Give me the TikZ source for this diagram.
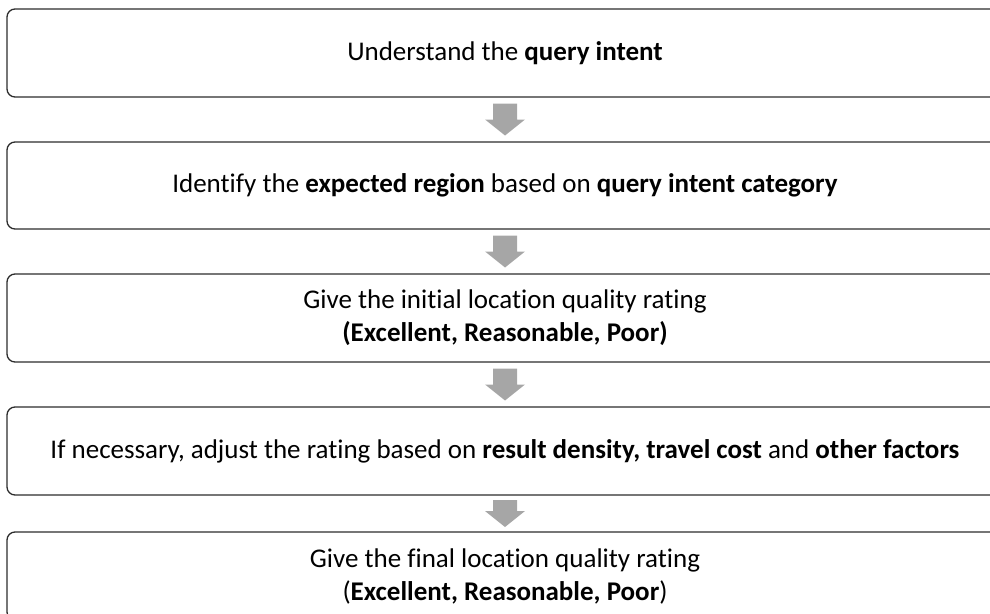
\documentclass[tikz,border=0pt]{standalone}
\usepackage{fontspec}
\setmainfont[Ligatures=NoCommon]{Carlito}
\usepackage{tikz}
\usetikzlibrary{calc}
\definecolor{arrowgray}{RGB}{166,166,166}
\definecolor{edgegray}{RGB}{45,45,45}

% grey block arrow between two boxes, #3 = half height
\newcommand{\blockarrow}[3]{
    \coordinate (#1#2) at ($(#1.south)!0.5!(#2.north)$);
    \fill[arrowgray] ($(#1#2)+(-12,-#3)$) -- ($(#1#2)+(12,-#3)$) -- ($(#1#2)+(12,#3-16)$) -- ($(#1#2)+(20,#3-16)$)
        -- ($(#1#2)+(0,#3)$) -- ($(#1#2)+(-20,#3-16)$) -- ($(#1#2)+(-12,#3-16)$) -- cycle;
}

\begin{document}
\begin{tikzpicture}[x=1pt, y=-1pt,
    stepbox/.style={draw=edgegray, line width=1.3pt, rounded corners=8pt, minimum width=996pt, minimum height=88pt, align=center, font=\fontsize{27}{33}\selectfont, inner sep=0pt}]
            \useasboundingbox (0,0) rectangle (990,613);
            \node[stepbox] (intent) at (505,53) {Understand the \textbf{query intent}};
            \node[stepbox, minimum height=87pt] (region) at (505,185.5) {Identify the \textbf{expected region} based on \textbf{query intent category}};
            \node[stepbox] (initial) at (505,318) {Give the initial location quality rating\\ \textbf{(Excellent, Reasonable, Poor)}};
            \node[stepbox] (adjust) at (505,451) {If necessary, adjust the rating based on \textbf{result density, travel cost} and \textbf{other factors}};
            \node[stepbox] (final) at (505,576) {Give the final location quality rating\\ (\textbf{Excellent, Reasonable, Poor})};
            \blockarrow{intent}{region}{16}
            \blockarrow{region}{initial}{16}
            \blockarrow{initial}{adjust}{16}
            \blockarrow{adjust}{final}{13.5}
        \end{tikzpicture}
\end{document}
